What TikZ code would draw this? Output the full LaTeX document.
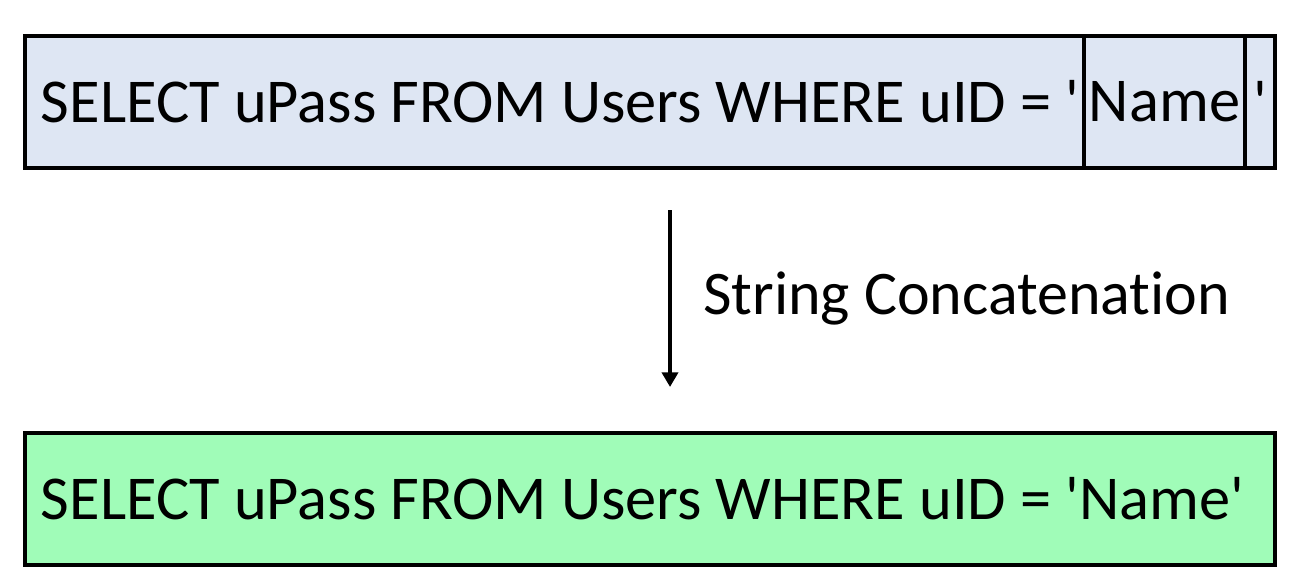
\documentclass[tikz,border=0pt]{standalone}
\usepackage{fontspec}
\setmainfont{Carlito}[Ligatures={NoCommon}]
\usetikzlibrary{arrows.meta,positioning}
\definecolor{topfill}{RGB}{222,230,243}
\definecolor{botfill}{RGB}{160,252,184}
\newcommand{\sq}{\textquotesingle}
\begin{document}
\begin{tikzpicture}[x=0.75pt,y=-0.75pt,
  cell/.style={draw=black,line width=3pt,rectangle,inner sep=0pt,minimum height=99pt,font=\fontsize{46.8}{56}\selectfont},
  lbl/.style={font=\fontsize{46.5}{56}\selectfont,inner sep=0pt,anchor=west}]
\useasboundingbox (0,0) rectangle (1298,588);
\node[cell,fill=topfill,minimum width=794.25pt,anchor=north west] (q1) at (23,34) {\makebox[794.25pt][l]{\hspace*{12pt}SELECT uPass FROM Users WHERE uID = \sq}};
\node[cell,fill=topfill,minimum width=120.75pt,anchor=north west] (nm) at (1082,34) {Name};
\node[cell,fill=topfill,minimum width=22.5pt,anchor=north west] (q2) at (1243,34) {\sq};
\coordinate (a1) at (670,210);
\coordinate (a2) at (670,387);
\draw[line width=3pt,-{Triangle[length=11pt,width=12pt]}] (a1) -- (a2);
\node[lbl] (lab) at (703,298) {String Concatenation};
\node[cell,fill=botfill,minimum width=937.5pt,anchor=north west] (bot) at (23,431) {\makebox[937.5pt][l]{\hspace*{12pt}SELECT uPass FROM Users WHERE uID = \sq Name\sq}};
\end{tikzpicture}
\end{document}
